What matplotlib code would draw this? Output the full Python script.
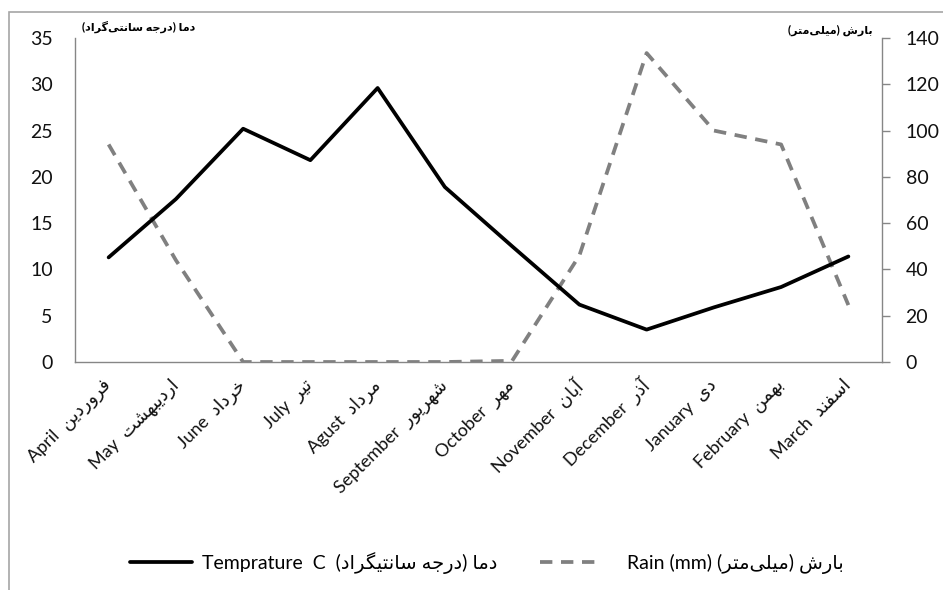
import numpy as np
import matplotlib
matplotlib.use("Agg")
import matplotlib.pyplot as plt
from matplotlib.patches import Rectangle

plt.rcParams['font.family'] = ['Lato', 'DejaVu Sans']

months_en = ['April', 'May', 'June', 'July', 'Agust', 'September', 'October',
             'November', 'December', 'January', 'February', 'March']
months_fa = ['فروردین', 'اردیبهشت', 'خرداد', 'تیر', 'مرداد', 'شهریور', 'مهر',
             'آبان', 'آذر', 'دی', 'بهمن', 'اسفند']
temp = [11.3, 17.6, 25.2, 21.8, 29.6, 18.9, 12.5, 6.2, 3.5, 5.9, 8.1, 11.4]
rain = [94, 44, 0, 0, 0, 0, 0.5, 46, 133.5, 100, 94, 24.6]

temp_unit = 'دما (درجه سانتی\u200cگراد)'
rain_unit = 'بارش (میلی\u200cمتر)'
temp_legend = 'دما (درجه سانتیگراد)'
rain_legend = 'بارش (میلی\u200cمتر)'

# presentation forms: (isolated, final, initial, medial)
DUAL = {
    'ب': '\uFE8F\uFE90\uFE91\uFE92', 'ت': '\uFE95\uFE96\uFE97\uFE98',
    'ج': '\uFE9D\uFE9E\uFE9F\uFEA0', 'خ': '\uFEA5\uFEA6\uFEA7\uFEA8',
    'س': '\uFEB1\uFEB2\uFEB3\uFEB4', 'ش': '\uFEB5\uFEB6\uFEB7\uFEB8',
    'ف': '\uFED1\uFED2\uFED3\uFED4', 'ل': '\uFEDD\uFEDE\uFEDF\uFEE0',
    'م': '\uFEE1\uFEE2\uFEE3\uFEE4', 'ن': '\uFEE5\uFEE6\uFEE7\uFEE8',
    'ه': '\uFEE9\uFEEA\uFEEB\uFEEC', 'ی': '\uFBFC\uFBFD\uFBFE\uFBFF',
    'گ': '\uFB92\uFB93\uFB94\uFB95',
}
RIGHT = {
    'ا': '\uFE8D\uFE8E', 'آ': '\uFE81\uFE82', 'د': '\uFEA9\uFEAA',
    'ذ': '\uFEAB\uFEAC', 'ر': '\uFEAD\uFEAE', 'و': '\uFEED\uFEEE',
}


def shape(s):
    # join letters, then lay out right-to-left
    out = []
    for i, c in enumerate(s):
        if c == '\u200c':
            continue
        if c not in DUAL and c not in RIGHT:
            out.append(c)
            continue
        prev = i > 0 and s[i - 1] in DUAL
        nxt = c in DUAL and i < len(s) - 1 and (s[i + 1] in DUAL or s[i + 1] in RIGHT)
        if c in DUAL:
            f = DUAL[c]
            out.append(f[3] if prev and nxt else f[1] if prev else f[2] if nxt else f[0])
        else:
            f = RIGHT[c]
            out.append(f[1] if prev else f[0])
    vis = ''.join(reversed(out))
    return vis.replace('(', '\0').replace(')', '(').replace('\0', ')')


x = np.arange(len(months_en))
labels = [en + '  ' + shape(fa) for en, fa in zip(months_en, months_fa)]

fig = plt.figure(figsize=(9.43, 5.90), dpi=100)
fig.patches.append(Rectangle((9 / 943, -0.1), 1.2, 1 - 12 / 590 + 0.1,
                             transform=fig.transFigure, fill=False,
                             edgecolor='#a6a6a6', linewidth=1.2))

ax = fig.add_axes([75 / 943, 1 - 362 / 590, 807 / 943, 324 / 590])
ax2 = ax.twinx()

l1, = ax.plot(x, temp, color='black', linewidth=2.7, solid_joinstyle='round',
              solid_capstyle='round', zorder=3)
l2, = ax2.plot(x, rain, color='#808080', linewidth=2.7, dashes=(3.3, 2.3),
               dash_capstyle='butt')
ax.set_zorder(ax2.get_zorder() + 1)
ax.patch.set_visible(False)

ax.set_xlim(-0.5, 11.5)
ax.set_ylim(0, 35)
ax.set_yticks(np.arange(0, 36, 5))
ax2.set_ylim(0, 140)
ax2.set_yticks(np.arange(0, 141, 20))

for a in (ax, ax2):
    a.spines['top'].set_visible(False)
    for sp in a.spines.values():
        sp.set_color('#868686')
        sp.set_linewidth(1.0)
ax.spines['right'].set_visible(False)
ax2.spines['left'].set_visible(False)
ax2.spines['bottom'].set_visible(False)

ax.tick_params(axis='y', length=0, pad=16, labelsize=14, labelcolor='#111111')
ax2.tick_params(axis='y', length=6, color='#868686', width=1.0, pad=11,
                labelsize=14, labelcolor='#111111')
ax.set_xticks(x)
ax.set_xticklabels(labels, rotation=45, ha='right', va='center',
                   rotation_mode='anchor', fontsize=13, color='#111111')
ax.tick_params(axis='x', length=0, pad=15)

fig.text(82 / 943, 1 - 27 / 590, shape(temp_unit), fontsize=8, fontweight='bold',
         ha='left', va='center')
fig.text(873 / 943, 1 - 30 / 590, shape(rain_unit), fontsize=8, fontweight='bold',
         ha='right', va='center')

fig.legend([l1, l2],
           ['Temprature  C  ' + shape(temp_legend), '   Rain (mm) ' + shape(rain_legend)],
           loc='center', bbox_to_anchor=(487 / 943, 27 / 590), ncol=2, frameon=False,
           fontsize=14, handlelength=3.2, columnspacing=2.2, handletextpad=0.5)

fig.savefig('out.png', dpi=100)
